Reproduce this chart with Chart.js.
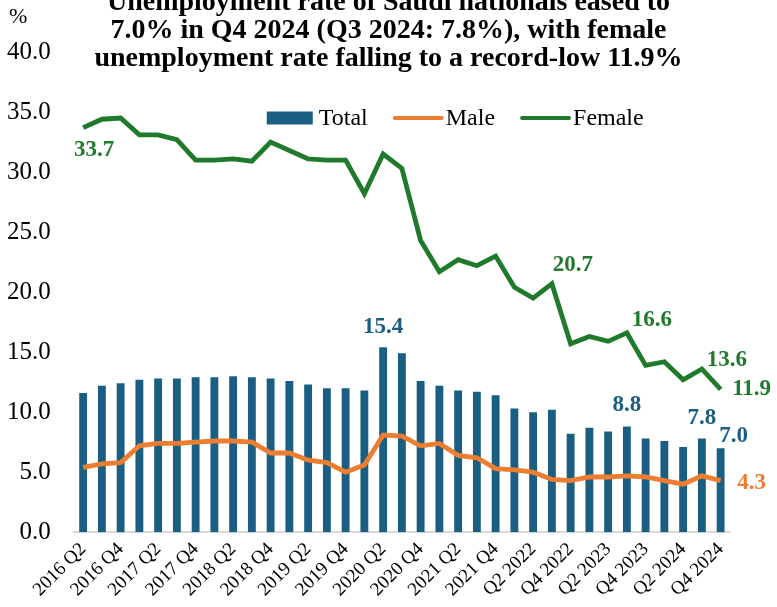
<!DOCTYPE html>
<html>
<head>
<meta charset="utf-8">
<script src="https://cdn.jsdelivr.net/npm/chart.js@4.4.1/dist/chart.umd.min.js"></script>
<style>
  html, body { margin: 0; padding: 0; background: #fff; overflow: hidden; }
  #wrap { position: relative; width: 777px; height: 607px; overflow: hidden; }
  #chart { position: absolute; left: 0; top: 0; }
  #title {
    position: absolute; left: 0; top: -13px; width: 777px; z-index: 2;
    text-align: center; color: #000;
    font: bold 28px/28px "Liberation Serif", "Times New Roman", serif;
  }
  #unit {
    position: absolute; left: 9px; top: 3px; z-index: 2;
    font: 22px "Liberation Serif", "Times New Roman", serif; color: #000;
  }
</style>
</head>
<body>
<div id="wrap">
  <canvas id="chart" width="777" height="607"></canvas>
  <div id="title">Unemployment rate of Saudi nationals eased to<br>7.0% in Q4 2024 (Q3 2024: 7.8%), with female<br>unemployment rate falling to a record-low 11.9%</div>
  <div id="unit">%</div>
</div>
<script>
'use strict';

const quarters = [
  '2016 Q2', '2016 Q3', '2016 Q4',
  '2017 Q1', '2017 Q2', '2017 Q3', '2017 Q4',
  '2018 Q1', '2018 Q2', '2018 Q3', '2018 Q4',
  '2019 Q1', '2019 Q2', '2019 Q3', '2019 Q4',
  '2020 Q1', '2020 Q2', '2020 Q3', '2020 Q4',
  '2021 Q1', '2021 Q2', '2021 Q3', '2021 Q4',
  'Q1 2022', 'Q2 2022', 'Q3 2022', 'Q4 2022',
  'Q1 2023', 'Q2 2023', 'Q3 2023', 'Q4 2023',
  'Q1 2024', 'Q2 2024', 'Q3 2024', 'Q4 2024'
];

const total = [
  11.6, 12.2, 12.4, 12.7, 12.8, 12.8, 12.9, 12.9, 13.0, 12.9,
  12.8, 12.6, 12.3, 12.0, 12.0, 11.8, 15.4, 14.9, 12.6, 12.2,
  11.8, 11.7, 11.4, 10.3, 10.0, 10.2, 8.2, 8.7, 8.4, 8.8,
  7.8, 7.6, 7.1, 7.8, 7.0
];

const male = [
  5.4, 5.7, 5.8, 7.2, 7.4, 7.4, 7.5, 7.6, 7.6, 7.5,
  6.6, 6.6, 6.0, 5.8, 5.0, 5.6, 8.1, 8.0, 7.2, 7.4,
  6.4, 6.2, 5.3, 5.2, 5.0, 4.4, 4.3, 4.6, 4.6, 4.7,
  4.6, 4.3, 4.0, 4.7, 4.3
];

const female = [
  33.7, 34.4, 34.5, 33.1, 33.1, 32.7, 31.0, 31.0, 31.1, 30.9,
  32.5, 31.8, 31.1, 31.0, 31.0, 28.2, 31.5, 30.3, 24.3, 21.7,
  22.7, 22.2, 23.0, 20.4, 19.5, 20.7, 15.7, 16.3, 15.9, 16.6,
  13.9, 14.2, 12.7, 13.6, 11.9
];

const yTicks = [0, 5, 10, 15, 20, 25, 30, 35, 40];

const BLUE = '#1a5f82';
const ORANGE = '#ed7d31';
const GREEN = '#1f7a2c';
const SERIF = '"Liberation Serif", "Times New Roman", serif';

// which points get a value label, and where it sits relative to the point
const callouts = [
  { ds: 2, i: 0, dx: 11, dy: 22 },
  { ds: 2, i: 25, dx: 21, dy: -19 },
  { ds: 2, i: 29, dx: 25, dy: -13 },
  { ds: 2, i: 33, dx: 25, dy: -9 },
  { ds: 2, i: 34, dx: 31, dy: 0 },
  { ds: 0, i: 16, dx: 0, dy: -20 },
  { ds: 0, i: 29, dx: 0, dy: -22 },
  { ds: 0, i: 33, dx: 0, dy: -21 },
  { ds: 0, i: 34, dx: 13, dy: -12 },
  { ds: 1, i: 34, dx: 31, dy: 2 }
];

const calloutPlugin = {
  id: 'callouts',
  afterDatasetsDraw(chart) {
    const ctx = chart.ctx;
    ctx.save();
    ctx.font = 'bold 23px ' + SERIF;
    ctx.textAlign = 'center';
    ctx.textBaseline = 'middle';
    callouts.forEach(c => {
      const ds = chart.data.datasets[c.ds];
      const el = chart.getDatasetMeta(c.ds).data[c.i];
      if (!el) return;
      ctx.fillStyle = ds.labelColor;
      ctx.fillText(ds.data[c.i].toFixed(1), el.x + c.dx, el.y + c.dy);
    });
    ctx.restore();
  }
};

// single-row legend sitting inside the plot, like the original
const inlineLegend = {
  id: 'inlineLegend',
  beforeDatasetsDraw(chart) {
    const ctx = chart.ctx;
    const area = chart.chartArea;
    let x = area.left + 193;
    const y = area.top + 66;
    ctx.save();
    ctx.font = '24px ' + SERIF;
    ctx.textBaseline = 'middle';
    ctx.textAlign = 'left';
    chart.data.datasets.forEach(ds => {
      if (ds.type === 'line') {
        ctx.strokeStyle = ds.borderColor;
        ctx.lineWidth = 4;
        ctx.lineCap = 'round';
        ctx.beginPath();
        ctx.moveTo(x + 1, y);
        ctx.lineTo(x + 48, y);
        ctx.stroke();
        x += 52;
      } else {
        ctx.fillStyle = ds.backgroundColor;
        ctx.fillRect(x, y - 6.5, 46, 13);
        x += 52;
      }
      ctx.fillStyle = '#000';
      ctx.fillText(ds.label, x, y + 1);
      x += ctx.measureText(ds.label).width + 26;
    });
    ctx.restore();
  }
};

new Chart(document.getElementById('chart'), {
  type: 'bar',
  data: {
    labels: quarters,
    datasets: [
      {
        label: 'Total',
        data: total,
        backgroundColor: BLUE,
        labelColor: BLUE,
        barPercentage: 0.42,
        categoryPercentage: 1,
        order: 3
      },
      {
        type: 'line',
        label: 'Male',
        data: male,
        borderColor: ORANGE,
        backgroundColor: ORANGE,
        labelColor: ORANGE,
        borderWidth: 4.8,
        pointRadius: 0,
        tension: 0,
        order: 2
      },
      {
        type: 'line',
        label: 'Female',
        data: female,
        borderColor: GREEN,
        backgroundColor: GREEN,
        labelColor: GREEN,
        borderWidth: 4.8,
        pointRadius: 0,
        tension: 0,
        order: 1
      }
    ]
  },
  options: {
    responsive: false,
    animation: false,
    layout: { padding: { top: 52, right: 47, left: -16, bottom: 0 } },
    plugins: {
      legend: { display: false },
      tooltip: { enabled: false }
    },
    scales: {
      x: {
        grid: { display: false, drawTicks: false },
        border: { display: true, color: '#d9d9d9', width: 2 },
        ticks: {
          autoSkip: false,
          minRotation: 45,
          maxRotation: 45,
          padding: 6,
          color: '#000',
          font: { family: SERIF, size: 19 },
          callback(v, i) { return i % 2 === 0 ? this.getLabelForValue(v) : ''; }
        }
      },
      y: {
        min: yTicks[0],
        max: yTicks[yTicks.length - 1],
        afterBuildTicks(scale) { scale.ticks = yTicks.map(v => ({ value: v })); },
        grid: { display: false, drawTicks: false },
        border: { display: false },
        ticks: {
          padding: 23,
          color: '#000',
          font: { family: SERIF, size: 25 },
          callback: v => v.toFixed(1)
        }
      }
    }
  },
  plugins: [calloutPlugin, inlineLegend]
});
</script>
</body>
</html>
